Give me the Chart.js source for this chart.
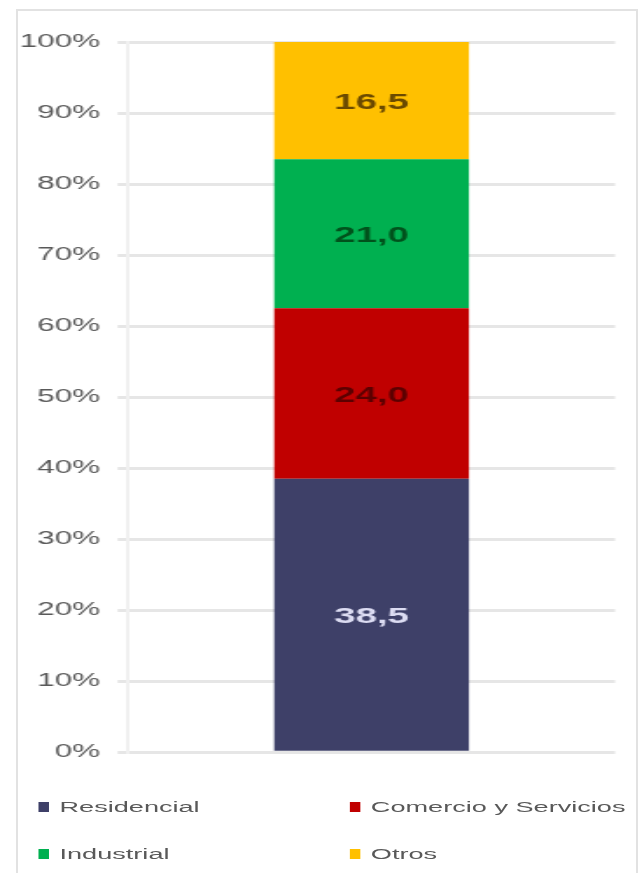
<!DOCTYPE html>
<html>
<head>
<meta charset="utf-8">
<script src="https://cdn.jsdelivr.net/npm/chart.js@4/dist/chart.umd.min.js"></script>
<style>
  html, body { margin: 0; padding: 0; background: #fff; overflow: hidden; }
  body { width: 642px; height: 873px; position: relative; }
  .frame { position: absolute; left: 16px; top: 9px; width: 618px; height: 900px; border: 2px solid #e2e2e2; }
  /* the reference is a horizontally stretched picture, so the chart is drawn narrow and stretched */
  .wrap { position: absolute; left: 0; top: 0; width: 367px; height: 873px; transform: scaleX(1.7493); transform-origin: 0 0; }
  .wrap canvas { position: absolute; left: 0; top: 0; }
  .legend { position: absolute; left: 0; top: 0; width: 367px; font: 15.5px "Liberation Sans", Arial, sans-serif; color: #595959; }
  .legend .item { position: absolute; height: 20px; line-height: 20px; white-space: nowrap; }
  .legend .box { position: absolute; left: 0; top: 5px; width: 6px; height: 10px; }
  .legend .txt { position: absolute; left: 12px; top: 0; }
</style>
</head>
<body>
<div class="frame"></div>
<div class="wrap">
  <canvas id="chart" width="367" height="773"></canvas>
  <div class="legend" id="legend"></div>
</div>
<script>
const categories = ['Total'];
const seriesNames = ['Residencial', 'Comercio y Servicios', 'Industrial', 'Otros'];
const residencial = [38.5];
const comercio = [24.0];
const industrial = [21.0];
const otros = [16.5];
const yTicks = [0, 10, 20, 30, 40, 50, 60, 70, 80, 90, 100];

const seriesValues = [residencial, comercio, industrial, otros];
const fillColors = ['#3e4068', '#c00000', '#00b050', '#ffc000'];
const labelColors = ['#dcdcf2', '#5c0000', '#00521c', '#6b4a00'];

const valueLabels = {
  id: 'valueLabels',
  afterDatasetsDraw(chart) {
    const ctx = chart.ctx;
    chart.data.datasets.forEach((ds, i) => {
      chart.getDatasetMeta(i).data.forEach((bar, j) => {
        const p = bar.getProps(['x', 'y', 'base'], true);
        ctx.save();
        ctx.fillStyle = labelColors[i];
        ctx.font = 'bold 22px "Liberation Sans", Arial, sans-serif';
        ctx.textAlign = 'center';
        ctx.textBaseline = 'middle';
        ctx.fillText(ds.data[j].toFixed(1).replace('.', ','), p.x, (p.y + p.base) / 2 + 2);
        ctx.restore();
      });
    });
  }
};

const chart = new Chart(document.getElementById('chart'), {
  type: 'bar',
  data: {
    labels: categories,
    datasets: seriesNames.map((name, i) => ({
      label: name,
      data: seriesValues[i],
      backgroundColor: fillColors[i],
      borderWidth: 0,
      categoryPercentage: 1,
      barPercentage: 0.4,
    })),
  },
  options: {
    responsive: false,
    animation: false,
    layout: { padding: { top: 42, bottom: 14, left: 0, right: 15.4 } },
    plugins: {
      legend: { display: false },
      tooltip: { enabled: false },
    },
    scales: {
      x: { stacked: true, display: false },
      y: {
        stacked: true,
        min: 0,
        max: 100,
        afterBuildTicks: (scale) => { scale.ticks = yTicks.map((v) => ({ value: v })); },
        afterFit: (scale) => { scale.width = 73.2; },
        ticks: {
          padding: 10,
          color: '#595959',
          font: { family: '"Liberation Sans", Arial, sans-serif', size: 18 },
          callback: (v) => v + '%',
        },
        grid: { color: '#e6e6e6', lineWidth: 3, drawTicks: true, tickLength: 6 },
        border: { display: true, color: '#f0f0f0', width: 2 },
      },
    },
  },
  plugins: [valueLabels],
});

// two-column legend under the plot, built from the same series
const legendPos = [[22, 797], [200, 797], [22, 844], [200, 844]];
const legend = document.getElementById('legend');
seriesNames.forEach((name, i) => {
  const item = document.createElement('div');
  item.className = 'item';
  item.style.left = legendPos[i][0] + 'px';
  item.style.top = legendPos[i][1] + 'px';
  item.innerHTML = '<span class="box" style="background:' + fillColors[i] + '"></span><span class="txt">' + name + '</span>';
  legend.appendChild(item);
});
</script>
</body>
</html>
